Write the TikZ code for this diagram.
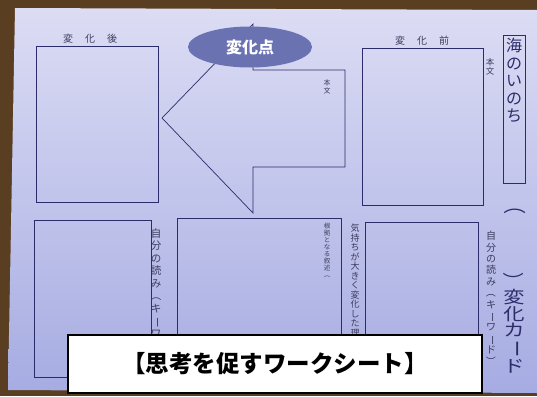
\documentclass[tikz,border=0pt]{standalone}
\usepackage{fontspec}
\usepackage{graphicx}
\usetikzlibrary{shapes.geometric}
\newfontfamily\jp{Noto Sans CJK JP}
\newcommand\vr[1]{\rotatebox[origin=c]{-90}{#1}}
\definecolor{bgbrown}{HTML}{5A3E22}
\definecolor{papertop}{HTML}{DCDCF4}
\definecolor{paperbot}{HTML}{A6ACE2}
\definecolor{linec}{HTML}{2C2C6A}
\definecolor{labc}{HTML}{3C3C5E}
\definecolor{ovalc}{HTML}{6B72B2}
\tikzset{
  boxline/.style={draw=linec, line width=0.7pt},
  vt/.style={align=center, inner sep=0pt, text=labc, anchor=north},
  hl/.style={inner sep=0pt, text=labc, font=\jp\fontsize{10}{10}\selectfont}
}
\begin{document}
\begin{tikzpicture}[x=1pt,y=-1pt]
\useasboundingbox (0,0) rectangle (537,396);
% background photo edges
\fill[bgbrown] (0,0) rectangle (537,396);
\shade[top color=papertop, bottom color=paperbot] (15,8) -- (537,10) -- (537,393) -- (8,390) -- cycle;
% boxes
\draw[boxline] (36,46) rectangle (158,202);
\draw[boxline] (362,48) rectangle (483,205);
\draw[boxline] (503,35) rectangle (525,183);
\draw[boxline] (34,220) rectangle (151,377);
\draw[boxline] (177,218) rectangle (341,380);
\draw[boxline] (365,222) rectangle (478,380);
% arrow shape
\draw[boxline] (253,24) -- (162,118) -- (253,213) -- (253,167) -- (345,167) -- (345,70) -- (253,70) -- cycle;
% ellipse
\node[ellipse, fill=ovalc, minimum width=124pt, minimum height=41pt, inner sep=0pt,
      text=white, font=\jp\bfseries\fontsize{16}{16}\selectfont] (pt) at (250,47) {変化点};
% labels
\node[hl] (after) at (90,39) {変\hspace{12pt}化\hspace{12pt}後};
\node[hl] (before) at (422,41) {変\hspace{12pt}化\hspace{12pt}前};
\node[vt, font=\jp\fontsize{7}{8}\selectfont] (hb1) at (327,79) {本\\文};
\node[vt, font=\jp\fontsize{8.5}{9.5}\selectfont] (hb2) at (490,58) {本\\文};
\node[vt, text=linec, font=\jp\fontsize{16}{17.5}\selectfont] (title) at (514,38) {海\\の\\い\\の\\ち};
\node[inner sep=0pt, text=linec, font=\jp\fontsize{18}{18}\selectfont, xscale=1.25, transform shape] (lp) at (515,205) {\vr{（}};
\node[vt, text=linec, font=\jp\fontsize{17}{16.5}\selectfont, xscale=1.25, transform shape] (card) at (514,272) {\vr{）}\\変\\化\\カ\\\vr{ー}\\ド};
\node[vt, font=\jp\fontsize{10.5}{12.5}\selectfont] (read1) at (156,228) {自\\分\\の\\読\\み\\\vr{（}\\キ\\\vr{ー}\\ワ};
\node[vt, font=\jp\fontsize{10}{11.4}\selectfont] (read2) at (491,231) {自\\分\\の\\読\\み\\\vr{（}\\キ\\\vr{ー}\\ワ\\\vr{ー}\\ド\\\vr{）}};
\node[vt, font=\jp\fontsize{6.5}{7}\selectfont] (basis) at (327,223) {根\\拠\\と\\な\\る\\叙\\述\\\vr{（}};
\node[vt, font=\jp\fontsize{9}{9.5}\selectfont] (reason) at (355,224) {気\\持\\ち\\が\\大\\き\\く\\変\\化\\し\\た\\理};
% banner
\node[draw=black, line width=1.6pt, fill=white, minimum width=414pt, minimum height=58pt, inner sep=0pt,
      font=\jp\bfseries\fontsize{23.5}{23.5}\selectfont] (banner) at (275,364) {【思考を促すワークシート】};
\end{tikzpicture}
\end{document}
